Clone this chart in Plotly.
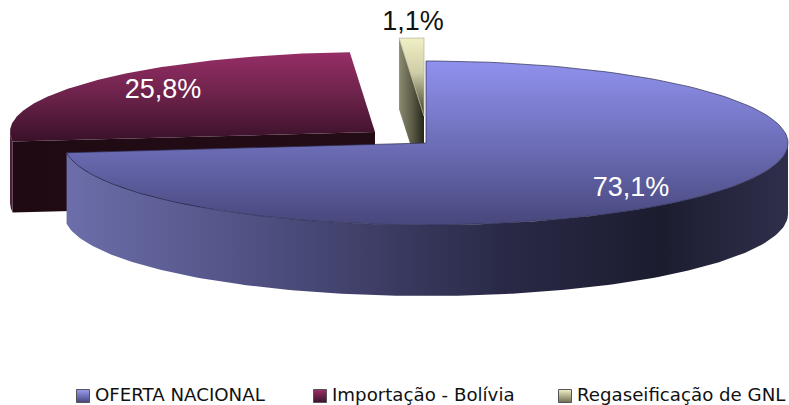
import numpy as np
import plotly.graph_objects as go

categories = ["OFERTA NACIONAL", "Importação - Bolívia", "Regaseificação de GNL"]
values = [73.1, 25.8, 1.1]
labels = ["73,1%", "25,8%", "1,1%"]

# pixel space of the page, y pointing down
W, H = 789, 405
DEPTH = 71
centers = [(426, 143), (375, 132), (424, 116)]
radii_x = [362, 365, 361]
radii_y = [82, 80, 78]
label_pos = [(631, 189), (163, 91), (413, 23)]
key_x = [83, 320, 565]
key_text_x = [95, 332, 577]
key_y = 396

ends = np.cumsum(values) / np.sum(values) * 2 * np.pi
starts = ends - np.array(values) / np.sum(values) * 2 * np.pi


def arc(i, a, b, drop=0):
    t = np.linspace(a, b, 160)
    cx, cy = centers[i]
    return cx + radii_x[i] * np.sin(t), cy - radii_y[i] * np.cos(t) + drop


def top_face(i):
    x, y = arc(i, starts[i], ends[i])
    cx, cy = centers[i]
    return np.r_[cx, x, cx], np.r_[cy, y, cy]


def outer_wall(i):
    a = max(starts[i], np.pi / 2)
    b = min(ends[i], 3 * np.pi / 2)
    x1, y1 = arc(i, a, b)
    x2, y2 = arc(i, b, a, DEPTH)
    return np.r_[x1, x2, x1[0]], np.r_[y1, y2, y1[0]]


def cut_face(i, angle):
    cx, cy = centers[i]
    x, y = arc(i, angle, angle)
    x, y = x[0], y[0]
    return [cx, x, x, cx, cx], [cy, y, y + DEPTH, cy + DEPTH, cy]


def poly(xy, scale, kind, line="rgba(0,0,0,0)"):
    return go.Scatter(
        x=xy[0], y=xy[1], mode="lines", fill="toself",
        fillgradient=dict(type=kind, colorscale=scale),
        line=dict(color=line, width=0.7),
        showlegend=False, hoverinfo="skip",
    )


fig = go.Figure()

# back to front: gnl, bolivia, oferta
# vertical scales run bottom to top because the y axis is flipped
fig.add_trace(poly(cut_face(2, starts[2]),
                   [[0, "#8b8b72"], [0.5, "#5e5e48"], [1, "#26261a"]], "horizontal"))
fig.add_trace(poly(top_face(2), [[0, "#3c3b28"], [0.55, "#cfcda6"], [1, "#f1efc4"]], "vertical", "#b5b398"))

fig.add_trace(poly(outer_wall(1), [[0, "#4c2038"], [1, "#4c2038"]], "horizontal"))
fig.add_trace(poly(cut_face(1, starts[1]), [[0, "#1f0a13"], [1, "#240c16"]], "horizontal"))
fig.add_trace(poly(top_face(1), [[0, "#3a1129"], [0.5, "#6a2249"], [1, "#962e66"]], "vertical"))

fig.add_trace(poly(outer_wall(0),
                   [[0, "#6c6eaa"], [0.3, "#4c4c7c"], [0.6, "#2a2a48"], [0.82, "#1c1c2f"], [1, "#2f2f4c"]],
                   "horizontal"))
fig.add_trace(poly(top_face(0),
                   [[0, "#47477c"], [0.5, "#6d6eb8"], [1, "#9091ee"]], "vertical", "#2c2c50"))

# labels
colors = ["white", "white", "#111111"]
for i in range(3):
    fig.add_trace(go.Scatter(
        x=[label_pos[i][0]], y=[label_pos[i][1]], mode="text", text=[labels[i]],
        textfont=dict(family="Liberation Sans", size=27, color=colors[i]),
        showlegend=False, hoverinfo="skip",
    ))

# key along the bottom, plotly's legend clips the long last entry at this pitch
key_top = ["#9a9cf2", "#9a3068", "#f3f1c8"]
key_bottom = ["#45467c", "#3c1129", "#6e6d50"]
for i, name in enumerate(categories):
    fig.add_trace(go.Scatter(
        x=[key_x[i]], y=[key_y], mode="markers", hoverinfo="skip", showlegend=False,
        marker=dict(symbol="square", size=13, color=key_top[i], line=dict(color="#555555", width=1),
                    gradient=dict(type="vertical", color=key_bottom[i])),
    ))
    fig.add_trace(go.Scatter(
        x=[key_text_x[i]], y=[key_y], mode="text", text=[name], textposition="middle right",
        textfont=dict(family="DejaVu Sans", size=18.2, color="#111111"),
        hoverinfo="skip", showlegend=False,
    ))

fig.update_layout(
    width=W, height=H,
    margin=dict(l=0, r=0, t=0, b=0, autoexpand=False),
    paper_bgcolor="white", plot_bgcolor="white",
    xaxis=dict(range=[0, W], visible=False),
    yaxis=dict(range=[H, 0], visible=False),
    showlegend=False,
)

# drop the default page margin so the figure sits at 0,0
fig.write_html("out.html", config=dict(displayModeBar=False),
               post_script="document.body.style.margin='0';")
